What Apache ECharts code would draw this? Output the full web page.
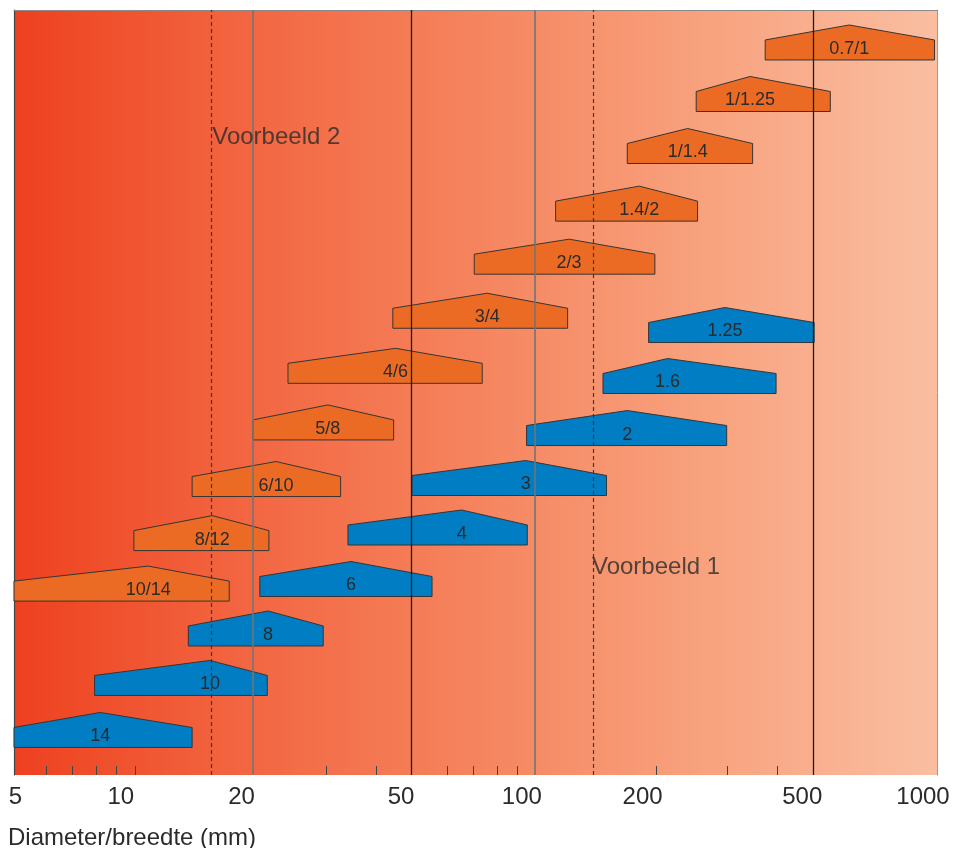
<!DOCTYPE html>
<html>
<head>
<meta charset="utf-8">
<script src="https://cdn.jsdelivr.net/npm/echarts@6.0.0/dist/echarts.min.js"></script>
<style>
html,body{margin:0;padding:0;background:#ffffff;}
#chart{width:967px;height:848px;}
</style>
</head>
<body>
<div id="chart"></div>
<script>
// ---- axis ticks / labels ----
const tickLabels = [5, 10, 20, 50, 100, 200, 500, 1000];
const minorTicks = [6, 7, 8, 9, 10, 30, 40, 60, 70, 80, 90, 200, 300, 400];

// ---- orange series (label, low, peak, high, row level) ----
const orangeLabels = ['0.7/1', '1/1.25', '1/1.4', '1.4/2', '2/3', '3/4', '4/6', '5/8', '6/10', '8/12', '10/14'];
const orangeLow    = [373, 251, 169, 112, 70.2, 44, 24.1, 19.7, 13.9, 9.95, 5];
const orangePeak   = [604, 342, 239, 181, 121, 75.6, 44.7, 30.3, 22.5, 15.6, 10.8];
const orangeHigh   = [986, 542, 347, 253, 198, 120, 73.5, 44.2, 32.6, 21.6, 17.2];
const orangeLevel  = [14.02, 13.01, 11.99, 10.86, 9.82, 8.76, 7.68, 6.57, 5.46, 4.40, 3.41];

// ---- blue series ----
const blueLabels = ['1.25', '1.6', '2', '3', '4', '6', '8', '10', '14'];
const blueLow    = [191, 147, 94.8, 49.1, 34, 20.5, 13.6, 7.94, 5];
const bluePeak   = [296, 213, 169, 94.3, 65.3, 34.6, 21.5, 15.4, 8.2];
const blueHigh   = [494, 397, 299, 150, 95.2, 55.1, 29.5, 21.4, 13.9];
const blueLevel  = [8.48, 7.48, 6.46, 5.48, 4.51, 3.50, 2.53, 1.56, 0.54];

// ---- reference lines ----
const dashedLines = [15.5, 139];
const grayLines = [19.7, 99.4];
const blackLines = [49, 492];

// ---- annotations ----
const noteTexts = ['Voorbeeld 2', 'Voorbeeld 1'];
const noteX = [15.6, 138];
const noteY = [12.51, 4.08];

const FONT = '"Liberation Sans", Arial, Helvetica, sans-serif';
const TEXT = '#2b2b2b';

function build(lo, pk, hi, lv) {
  return lo.map((v, i) => [v, pk[i], hi[i], lv[i]]);
}

function houseRenderer(color, labels) {
  return function (params, api) {
    const l = api.coord([api.value(0), api.value(3)]);
    const p = api.coord([api.value(1), api.value(3)]);
    const h = api.coord([api.value(2), api.value(3)]);
    const yb = l[1], ys = yb - 20, yp = ys - 15;
    return {
      type: 'group',
      children: [
        {
          type: 'polygon',
          shape: { points: [[l[0], yb], [h[0], yb], [h[0], ys], [p[0], yp], [l[0], ys]] },
          style: { fill: color, stroke: '#353535', lineWidth: 1 }
        },
        {
          type: 'text',
          style: {
            text: labels[params.dataIndex],
            x: p[0], y: yb - 11,
            align: 'center', verticalAlign: 'middle',
            fontSize: 18, fontFamily: FONT, fill: TEXT
          }
        }
      ]
    };
  };
}

const refLineData = []
  .concat(dashedLines.map(v => ({ xAxis: v, lineStyle: { color: '#3a3a3a', width: 1.2, type: [4, 3] } })))
  .concat(grayLines.map(v => ({ xAxis: v, lineStyle: { color: '#747474', width: 1.6, type: 'solid' } })))
  .concat(blackLines.map(v => ({ xAxis: v, lineStyle: { color: '#1e1e1e', width: 1.3, type: 'solid' } })));

const chart = echarts.init(document.getElementById('chart'), null, { renderer: 'canvas' });

chart.setOption({
  animation: false,
  title: {
    text: 'Diameter/breedte (mm)',
    left: 8, top: 826, padding: 0,
    textStyle: { fontSize: 24, fontWeight: 'normal', fontFamily: FONT, color: TEXT }
  },
  grid: {
    left: 14, right: 30, top: 10, bottom: 73,
    show: true, borderWidth: 0,
    backgroundColor: {
      type: 'linear', x: 0, y: 0, x2: 1, y2: 0,
      colorStops: [
        { offset: 0, color: '#EE4021' },
        { offset: 0.06, color: '#EF4A27' },
        { offset: 0.25, color: '#F26641' },
        { offset: 0.5, color: '#F5845E' },
        { offset: 0.75, color: '#F8A27E' },
        { offset: 1, color: '#FABEA1' }
      ]
    }
  },
  xAxis: [
    {
      type: 'log', logBase: 10, min: 5, max: 1000, position: 'bottom',
      axisLine: { show: false, onZero: false },
      splitLine: { show: false },
      axisTick: { show: true, inside: true, length: 9, customValues: minorTicks, lineStyle: { color: '#444', width: 1 } },
      axisLabel: {
        customValues: tickLabels,
        margin: 10,
        formatter: function (v) {
          const n = Math.round(v);
          return n === 5 ? '{f|5}' : '{s|' + n + '}';
        },
        rich: {
          s: { fontSize: 24, fontFamily: FONT, color: TEXT, padding: [0, 28, 0, 0] },
          f: { fontSize: 24, fontFamily: FONT, color: TEXT, padding: [0, 0, 0, 3] }
        }
      }
    },
    {
      type: 'log', logBase: 10, min: 5, max: 1000, position: 'top',
      axisLine: { show: true, onZero: false, lineStyle: { color: '#8a8a8a', width: 1 } },
      axisTick: { show: false }, axisLabel: { show: false }, splitLine: { show: false }
    }
  ],
  yAxis: [
    {
      type: 'value', min: 0, max: 15, position: 'left',
      axisLine: { show: true, onZero: false, lineStyle: { color: '#444', width: 1.2 } },
      axisTick: { show: false }, axisLabel: { show: false }, splitLine: { show: false }
    },
    {
      type: 'value', min: 0, max: 15, position: 'right',
      axisLine: { show: true, onZero: false, lineStyle: { color: '#c98a75', width: 1 } },
      axisTick: { show: false }, axisLabel: { show: false }, splitLine: { show: false }
    }
  ],
  series: [
    {
      name: 'orange', type: 'custom', z: 2,
      renderItem: houseRenderer('#EC6B24', orangeLabels),
      encode: { x: [0, 1, 2], y: 3 },
      data: build(orangeLow, orangePeak, orangeHigh, orangeLevel)
    },
    {
      name: 'blue', type: 'custom', z: 2,
      renderItem: houseRenderer('#007DC3', blueLabels),
      encode: { x: [0, 1, 2], y: 3 },
      data: build(blueLow, bluePeak, blueHigh, blueLevel)
    },
    {
      name: 'notes', type: 'scatter', z: 5,
      symbolSize: 0, silent: true,
      data: noteTexts.map((t, i) => ({ name: t, value: [noteX[i], noteY[i]] })),
      label: {
        show: true, position: 'right', distance: 0,
        formatter: p => p.name,
        fontSize: 24, fontFamily: FONT, color: TEXT
      },
      markLine: {
        silent: true, symbol: ['none', 'none'],
        label: { show: false },
        emphasis: { disabled: true },
        data: refLineData
      }
    }
  ]
});
</script>
</body>
</html>
